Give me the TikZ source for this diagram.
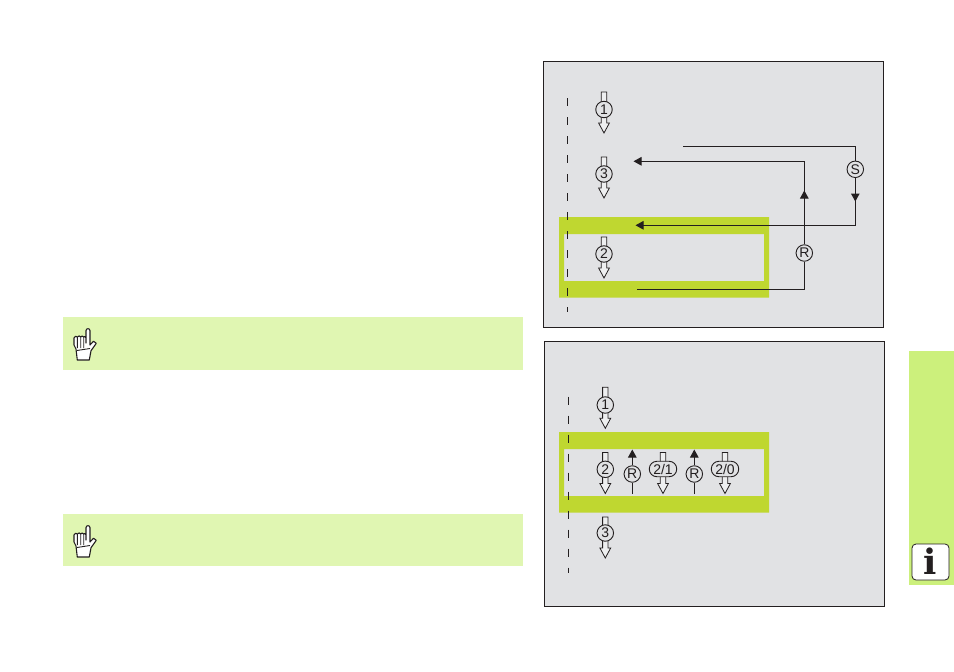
\documentclass[tikz,border=0pt]{standalone}
\usepackage{fontspec}
\setmainfont{Liberation Sans}
\newfontfamily\iconfont{DejaVu Serif}
\usepackage{xcolor}
\usetikzlibrary{arrows.meta,shapes.misc}
\definecolor{panelgray}{HTML}{E1E2E4}
\definecolor{framegreen}{HTML}{BFD730}
\definecolor{notegreen}{HTML}{E0F6B2}
\definecolor{sidegreen}{HTML}{CCF07C}
\definecolor{inkdark}{HTML}{231F20}
\tikzset{
panel/.style={draw=inkdark,fill=panelgray,line width=0.8pt},
axisline/.style={draw=inkdark,line width=0.8pt,dash pattern=on 8pt off 11pt},
conn/.style={draw=inkdark,line width=1pt},
tip/.style={conn,-{Triangle[width=8.5pt,length=8pt]},shorten >=-0.5pt},
numcirc/.style={shape=circle,draw=inkdark,fill=panelgray,line width=0.9pt,minimum size=16.5pt,inner sep=0pt,font=\fontsize{14}{14}\selectfont,text=inkdark},
numpill/.style={shape=rounded rectangle,draw=inkdark,fill=panelgray,line width=0.9pt,minimum width=27.5pt,minimum height=15.5pt,inner sep=0pt,font=\fontsize{14}{14}\selectfont,text=inkdark},
pics/hollowdown/.style={code={
\draw[draw=inkdark,fill=panelgray!55!white,line width=0.8pt](-2.7,0)--(2.7,0)--(2.7,31)--(5.4,31)--(0,41)--(-5.4,31)--(-2.7,31)--cycle;
}},
pics/handicon/.style={code={
\draw[draw=inkdark,fill=white,line width=1.1pt,line join=round](23,26.3)--(23,13.7)..controls(23,11)and(27,11)..(27,13.7)--(27,28)--(30.5,24.2)--(33.3,26.3)--(28,33.7)--(26.3,43)--(14.3,43)--(13,32)--(11,28)--(11,21)..controls(11,19)and(14,18.7)..(14.3,20)..controls(15,18.6)and(17.3,18.6)..(17.7,20)..controls(18,18.6)and(20.4,18.6)..(20.7,20)..controls(21,19)and(23,19.4)..(23,21);
\draw[draw=inkdark,line width=0.9pt](14.3,20)--(14.3,31)(17.7,20)--(17.7,31)(20.7,20)--(20.7,31)(14,33.5)--(27,31.5);
}}
}
\begin{document}
\begin{tikzpicture}[x=1pt,y=-1pt]
\useasboundingbox(0,0)rectangle(954,672);
% note boxes and side tab
\fill[notegreen](63,317)rectangle(523,370);
\fill[notegreen](63,514)rectangle(523,566);
\fill[sidegreen](909,351)rectangle(954,585);
\pic at(63,317){handicon};
\pic at(63,514){handicon};
\node[draw=inkdark,fill=white,line width=0.8pt,rounded corners=4pt,minimum width=37pt,minimum height=36pt,inner sep=0pt](infobox)at(930.5,562){};
\node[inner sep=0pt,text=inkdark,font=\iconfont\bfseries\fontsize{35}{35}\selectfont](infoglyph)at(930.5,561){i};
% upper panel
\draw[panel](543.5,61)rectangle(883.5,327.5);
\fill[framegreen,even odd rule](559,217)rectangle(769,297.5)(564,234)rectangle(764,281);
\draw[axisline](567.3,98)--(567.3,312);
\pic at(604,92){hollowdown};
\pic at(604,157){hollowdown};
\pic at(604,237){hollowdown};
\node[numcirc](one)at(604,109.5){1};
\node[numcirc](three)at(604,174){3};
\node[numcirc](two)at(604,254){2};
\coordinate(sstart)at(683,146.3);
\coordinate(sarrow)at(855.3,201);
\coordinate(send)at(636,225.3);
\coordinate(rstart)at(637,289.3);
\coordinate(rarrow)at(804.3,191);
\coordinate(rend)at(634,161.3);
\node[numcirc](scirc)at(855.3,169.3){S};
\node[numcirc](rcirc)at(804.3,253){R};
\draw[conn](sstart)-|(scirc);
\draw[tip](scirc)--(sarrow);
\draw[tip](scirc)|-(send);
\draw[conn](rstart)-|(rcirc);
\draw[tip](rcirc)--(rarrow);
\draw[tip](rcirc)|-(rend);
% lower panel
\draw[panel](544.3,341.7)rectangle(884.3,606.3);
\fill[framegreen,even odd rule](559,432)rectangle(769,512.7)(564,449)rectangle(764,496);
\draw[axisline](568.3,396.7)--(568.3,573.3);
\pic at(605.3,387.3){hollowdown};
\pic at(605.3,452.5){hollowdown};
\pic at(663,452.5){hollowdown};
\pic at(725,452.5){hollowdown};
\pic at(605.3,517){hollowdown};
\node[numcirc](oneb)at(605.3,405){1};
\node[numcirc](twob)at(605.3,469.3){2};
\node[numpill](twoone)at(663,469){2/1};
\node[numpill](twozero)at(725,469){2/0};
\node[numcirc](threeb)at(605.3,533){3};
\coordinate(rafoot)at(632.3,494);
\coordinate(ratip)at(632.3,450);
\coordinate(rbfoot)at(694.3,494);
\coordinate(rbtip)at(694.3,450);
\node[numcirc](rcirca)at(632.3,474){R};
\node[numcirc](rcircb)at(694.3,474){R};
\draw[conn](rafoot)--(rcirca);
\draw[tip](rcirca)--(ratip);
\draw[conn](rbfoot)--(rcircb);
\draw[tip](rcircb)--(rbtip);
\end{tikzpicture}
\end{document}
